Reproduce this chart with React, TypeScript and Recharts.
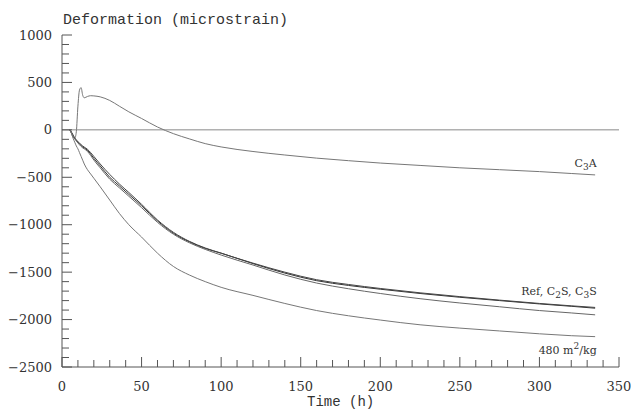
import React from "react";
import { LineChart, Line, XAxis, YAxis, ReferenceLine, ReferenceDot } from "recharts";

// time (h)
const hours = [5, 6, 7, 8, 9, 10, 11, 12, 13, 14, 16, 18, 20, 24, 30, 36, 42, 50, 60, 70, 80, 90, 100, 120, 140, 160, 180, 200, 225, 250, 275, 300, 320, 335];

// deformation (microstrain)
const c3a = [0, -40, -80, -90, -20, 250, 420, 445, 365, 338, 352, 360, 358, 348, 310, 250, 190, 120, 30, -40, -95, -145, -180, -228, -265, -298, -325, -350, -375, -400, -420, -440, -460, -475];
const refMix = [0, -30, -60, -90, -110, -130, -150, -165, -180, -190, -215, -255, -300, -380, -500, -590, -680, -800, -960, -1090, -1180, -1250, -1300, -1410, -1510, -1590, -1640, -1680, -1725, -1765, -1800, -1835, -1860, -1880];
const c2s = [0, -25, -55, -85, -105, -125, -140, -155, -170, -182, -205, -240, -280, -360, -470, -570, -660, -785, -950, -1080, -1175, -1245, -1300, -1405, -1500, -1580, -1630, -1672, -1718, -1758, -1795, -1830, -1855, -1872];
const c3s = [0, -35, -65, -95, -118, -138, -158, -175, -190, -200, -228, -270, -318, -400, -520, -610, -700, -820, -975, -1100, -1190, -1260, -1320, -1425, -1530, -1615, -1675, -1725, -1780, -1825, -1865, -1905, -1930, -1950];
const fine480 = [0, -40, -90, -130, -170, -200, -240, -280, -320, -360, -420, -465, -510, -600, -740, -880, -1000, -1130, -1300, -1440, -1530, -1600, -1660, -1745, -1830, -1905, -1960, -2005, -2055, -2090, -2120, -2150, -2170, -2180];

const xTicks = [0, 10, 20, 30, 40, 50, 60, 70, 80, 90, 100, 110, 120, 130, 140, 150, 160, 170, 180, 190, 200, 210, 220, 230, 240, 250, 260, 270, 280, 290, 300, 310, 320, 330, 340, 350];
const yTicks = [-2500, -2400, -2300, -2200, -2100, -2000, -1900, -1800, -1700, -1600, -1500, -1400, -1300, -1200, -1100, -1000, -900, -800, -700, -600, -500, -400, -300, -200, -100, 0, 100, 200, 300, 400, 500, 600, 700, 800, 900, 1000];

const data = hours.map((t, i) => ({
  t,
  c3a: c3a[i],
  ref: refMix[i],
  c2s: c2s[i],
  c3s: c3s[i],
  fine: fine480[i],
}));

const serif = "'DejaVu Serif', 'Liberation Serif', serif";
const axisColor = "#555";

const XTick = (props: any) => {
  const { x, y, payload } = props;
  const major = payload.value % 50 === 0;
  return (
    <g>
      <line x1={x} x2={x} y1={y} y2={y - (major ? 10 : 7)} stroke={axisColor} />
      {major && (
        <text x={x} y={y + 24} textAnchor="middle" fontFamily={serif} fontSize={13} fill="#333">
          {payload.value}
        </text>
      )}
    </g>
  );
};

const YTick = (props: any) => {
  const { x, y, payload } = props;
  const major = payload.value % 500 === 0;
  const label = payload.value < 0 ? `\u2212${Math.abs(payload.value)}` : `${payload.value}`;
  return (
    <g>
      <line x1={x} x2={x + (major ? 10 : 7)} y1={y} y2={y} stroke={axisColor} />
      {major && (
        <text x={x - 10} y={y} dy={4.5} textAnchor="end" fontFamily={serif} fontSize={13} fill="#333">
          {label}
        </text>
      )}
    </g>
  );
};

const noteStyle = { fontFamily: serif, fontSize: 11, fill: "#333" };

export default function App() {
  return (
    <div style={{ position: "absolute", left: 0, top: 0, width: 631, height: 412, background: "#fff" }}>
      <LineChart width={631} height={412} data={data} margin={{ top: 35, right: 12, left: 0, bottom: 0 }}>
        <XAxis
          dataKey="t"
          type="number"
          domain={[0, 350]}
          ticks={xTicks}
          interval={0}
          height={45}
          tickSize={0}
          tickMargin={0}
          tick={<XTick />}
          axisLine={{ stroke: axisColor }}
          tickLine={false}
        />
        <XAxis xAxisId="top" dataKey="t" type="number" domain={[0, 350]} orientation="top" height={0} tick={false} tickLine={false} axisLine={{ stroke: "#aaa" }} />
        <YAxis
          type="number"
          domain={[-2500, 1000]}
          ticks={yTicks}
          interval={0}
          width={62}
          tickSize={0}
          tickMargin={0}
          tick={<YTick />}
          axisLine={{ stroke: axisColor }}
          tickLine={false}
        />
        <YAxis yAxisId="right" type="number" domain={[-2500, 1000]} orientation="right" width={0} tick={false} tickLine={false} axisLine={{ stroke: "#888" }} />
        <ReferenceLine y={0} stroke="#888" />
        <Line dataKey="c3a" type="monotone" stroke="#777" strokeWidth={1} dot={false} isAnimationActive={false} />
        <Line dataKey="ref" type="monotone" stroke="#333" strokeWidth={1} dot={false} isAnimationActive={false} />
        <Line dataKey="c2s" type="monotone" stroke="#444" strokeWidth={1} dot={false} isAnimationActive={false} />
        <Line dataKey="c3s" type="monotone" stroke="#666" strokeWidth={1} dot={false} isAnimationActive={false} />
        <Line dataKey="fine" type="monotone" stroke="#777" strokeWidth={1} dot={false} isAnimationActive={false} />
        <ReferenceDot
          x={336}
          y={-390}
          r={0}
          shape={(p: any) => (
            <text x={p.cx} y={p.cy} textAnchor="end" {...noteStyle}>
              C<tspan dy={3} fontSize={9}>3</tspan><tspan dy={-3}>A</tspan>
            </text>
          )}
        />
        <ReferenceDot
          x={336}
          y={-1737}
          r={0}
          shape={(p: any) => (
            <text x={p.cx} y={p.cy} textAnchor="end" {...noteStyle}>
              Ref, C<tspan dy={3} fontSize={9}>2</tspan><tspan dy={-3}>S, C</tspan><tspan dy={3} fontSize={9}>3</tspan><tspan dy={-3}>S</tspan>
            </text>
          )}
        />
        <ReferenceDot
          x={336}
          y={-2368}
          r={0}
          shape={(p: any) => (
            <text x={p.cx} y={p.cy} textAnchor="end" {...noteStyle}>
              480 m<tspan dy={-5} fontSize={9}>2</tspan><tspan dy={5}>/kg</tspan>
            </text>
          )}
        />
      </LineChart>
      <div style={{ position: "absolute", left: 63, top: 13, fontFamily: "'Liberation Mono', monospace", fontSize: 15, lineHeight: "16px", color: "#333", whiteSpace: "nowrap" }}>
        Deformation (microstrain)
      </div>
      <div style={{ position: "absolute", left: 307, top: 395, fontFamily: "'Liberation Mono', monospace", fontSize: 14, lineHeight: "15px", color: "#333", whiteSpace: "nowrap" }}>
        Time (h)
      </div>
    </div>
  );
}
